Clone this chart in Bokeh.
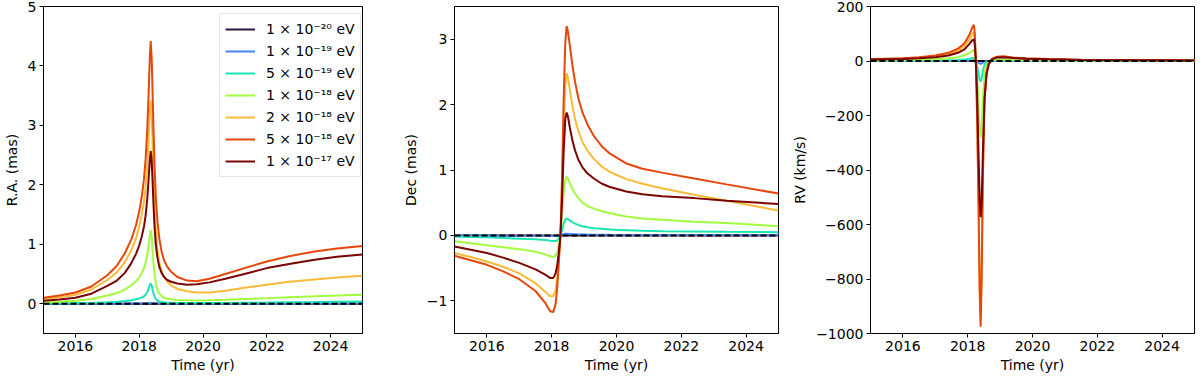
from bokeh.plotting import figure
from bokeh.layouts import row
from bokeh.models import FixedTicker, Range1d, Legend, LegendItem, Span, CustomJSTickFormatter
from bokeh.palettes import turbo
from bokeh.embed import file_html
from bokeh.resources import INLINE

# ---------------- data ----------------
mass_labels = ["1 × 10⁻²⁰ eV", "1 × 10⁻¹⁹ eV", "5 × 10⁻¹⁹ eV", "1 × 10⁻¹⁸ eV",
               "2 × 10⁻¹⁸ eV", "5 × 10⁻¹⁸ eV", "1 × 10⁻¹⁷ eV"]

# R.A. panel
t_ra = [2015, 2015.5, 2016, 2016.5, 2017, 2017.3, 2017.55, 2017.75, 2017.9, 2018.0, 2018.08, 2018.15,
        2018.2, 2018.25, 2018.29, 2018.33, 2018.36, 2018.39, 2018.42, 2018.45, 2018.48, 2018.52,
        2018.57, 2018.63, 2018.7, 2018.78, 2018.88, 2019.0, 2019.2, 2019.5, 2019.8, 2020.2, 2020.7,
        2021.3, 2022.0, 2022.7, 2023.5, 2024.2, 2025.0]
ra_m20 = [0.0] * 39
ra_m19 = [0.001, 0.001, 0.001, 0.001, 0.002, 0.002, 0.003, 0.003, 0.004, 0.004, 0.005, 0.006, 0.007,
          0.008, 0.009, 0.011, 0.012, 0.011, 0.009, 0.007, 0.005, 0.004, 0.003, 0.003, 0.002, 0.002,
          0.002, 0.002, 0.001, 0.001, 0.001, 0.001, 0.001, 0.002, 0.002, 0.002, 0.003, 0.003, 0.004]
ra_5m19 = [0.005, 0.007, 0.01, 0.015, 0.025, 0.033, 0.045, 0.06, 0.075, 0.09, 0.105, 0.125, 0.15,
           0.19, 0.24, 0.31, 0.34, 0.31, 0.24, 0.17, 0.12, 0.08, 0.055, 0.04, 0.03, 0.024, 0.019,
           0.016, 0.013, 0.011, 0.011, 0.012, 0.014, 0.017, 0.021, 0.026, 0.031, 0.036, 0.04]
ra_m18 = [0.02, 0.03, 0.05, 0.08, 0.14, 0.18, 0.24, 0.31, 0.38, 0.44, 0.52, 0.6, 0.69, 0.82, 0.97,
          1.15, 1.24, 1.14, 0.9, 0.68, 0.5, 0.35, 0.24, 0.17, 0.13, 0.1, 0.085, 0.075, 0.065, 0.058,
          0.055, 0.058, 0.067, 0.08, 0.095, 0.11, 0.125, 0.14, 0.15]
ra_2m18 = [0.08, 0.11, 0.15, 0.24, 0.40, 0.53, 0.7, 0.9, 1.1, 1.3, 1.5, 1.72, 1.95, 2.3, 2.7, 3.2, 3.42,
           3.2, 2.7, 2.15, 1.7, 1.25, 0.92, 0.7, 0.55, 0.45, 0.37, 0.31, 0.25, 0.21, 0.19, 0.19, 0.22,
           0.27, 0.32, 0.37, 0.41, 0.44, 0.47]
ra_5m18 = [0.10, 0.14, 0.19, 0.29, 0.48, 0.64, 0.85, 1.08, 1.32, 1.55, 1.8, 2.1, 2.42, 2.9, 3.45, 4.1,
           4.42, 4.15, 3.55, 2.9, 2.35, 1.8, 1.4, 1.1, 0.88, 0.73, 0.62, 0.54, 0.45, 0.39, 0.38, 0.42,
           0.5, 0.6, 0.71, 0.8, 0.88, 0.93, 0.97]
ra_m17 = [0.05, 0.07, 0.1, 0.17, 0.3, 0.39, 0.52, 0.68, 0.84, 0.98, 1.13, 1.3, 1.48, 1.75, 2.05, 2.4,
          2.57, 2.42, 2.05, 1.65, 1.3, 1.0, 0.78, 0.62, 0.52, 0.45, 0.4, 0.37, 0.34, 0.32, 0.33, 0.36,
          0.42, 0.5, 0.6, 0.67, 0.74, 0.79, 0.83]

# Dec panel
t_dec = [2015, 2015.5, 2016, 2016.5, 2017, 2017.5, 2017.8, 2017.95, 2018.05, 2018.12, 2018.17,
         2018.22, 2018.27, 2018.32, 2018.37, 2018.42, 2018.46, 2018.5, 2018.56, 2018.64, 2018.72,
         2018.82, 2018.95, 2019.1, 2019.3, 2019.55, 2019.8, 2020.3, 2020.8, 2021.4, 2022.4, 2023.4,
         2025.0]
dec_m20 = [0.0] * 33
dec_m19 = [-0.002, -0.003, -0.003, -0.004, -0.005, -0.006, -0.007, -0.008, -0.008, -0.008, -0.007,
           -0.004, 0.0, 0.008, 0.018, 0.024, 0.026, 0.025, 0.023, 0.02, 0.018, 0.016, 0.014, 0.012,
           0.011, 0.01, 0.009, 0.008, 0.007, 0.007, 0.006, 0.006, 0.005]
dec_5m19 = [-0.015, -0.025, -0.03, -0.04, -0.05, -0.06, -0.07, -0.08, -0.085, -0.085, -0.075, -0.045,
            0.0, 0.08, 0.18, 0.24, 0.26, 0.25, 0.23, 0.2, 0.18, 0.16, 0.14, 0.125, 0.11, 0.1, 0.09,
            0.08, 0.07, 0.065, 0.06, 0.055, 0.05]
dec_m18 = [-0.09, -0.12, -0.15, -0.18, -0.21, -0.25, -0.29, -0.32, -0.33, -0.31, -0.26, -0.15, 0.0,
           0.3, 0.65, 0.85, 0.9, 0.87, 0.8, 0.71, 0.64, 0.57, 0.5, 0.45, 0.41, 0.37, 0.34, 0.29, 0.26,
           0.24, 0.21, 0.19, 0.14]
dec_2m18 = [-0.27, -0.33, -0.40, -0.48, -0.58, -0.73, -0.86, -0.93, -0.93, -0.84, -0.64, -0.33, 0.0,
            0.7, 1.65, 2.3, 2.48, 2.42, 2.22, 1.98, 1.78, 1.6, 1.43, 1.3, 1.17, 1.05, 0.97, 0.86,
            0.79, 0.72, 0.62, 0.53, 0.38]
dec_5m18 = [-0.31, -0.38, -0.45, -0.55, -0.67, -0.85, -1.03, -1.16, -1.17, -1.05, -0.8, -0.42, 0.0,
            0.9, 2.1, 2.95, 3.2, 3.12, 2.9, 2.6, 2.35, 2.1, 1.88, 1.7, 1.52, 1.36, 1.25, 1.1, 1.02,
            0.96, 0.87, 0.78, 0.64]
dec_m17 = [-0.17, -0.22, -0.27, -0.34, -0.42, -0.52, -0.6, -0.65, -0.65, -0.58, -0.46, -0.26, 0.0,
           0.55, 1.3, 1.78, 1.88, 1.82, 1.65, 1.45, 1.3, 1.16, 1.04, 0.95, 0.87, 0.79, 0.74, 0.67,
           0.63, 0.6, 0.57, 0.53, 0.48]

# RV panel
t_rv = [2015, 2015.5, 2016, 2016.5, 2017, 2017.4, 2017.7, 2017.9, 2018.05, 2018.13, 2018.19, 2018.22,
        2018.25, 2018.29, 2018.33, 2018.37, 2018.40, 2018.43, 2018.47, 2018.52, 2018.58, 2018.65,
        2018.75, 2018.9, 2019.1, 2019.4, 2019.8, 2020.5, 2021.5, 2023.0, 2025.0]
rv_m20 = [0.0] * 31
rv_m19 = [0.1, 0.1, 0.1, 0.2, 0.3, 0.4, 0.6, 0.8, 1.2, 1.5, 1.7, 1.2, 0.0, -2.5, -6, -9, -10, -9, -5,
          -2, -0.6, -0.1, 0.1, 0.2, 0.2, 0.2, 0.1, 0.1, 0.1, 0.0, 0.0]
rv_5m19 = [0.5, 0.6, 0.8, 1.2, 1.8, 2.7, 4, 5.5, 8, 10, 11, 8, 0, -18, -42, -68, -76, -65, -36, -13, -4,
           -1, 0.8, 1.4, 1.4, 1.1, 0.8, 0.6, 0.4, 0.3, 0.3]
rv_m18 = [2, 2.5, 3, 4.5, 7, 10, 14, 21, 29, 36, 40, 30, 0, -60, -150, -250, -280, -240, -130, -45,
          -15, -3, 3, 5, 5, 4, 3, 2, 1.5, 1, 1]
rv_2m18 = [6, 7.5, 9, 12, 17, 25, 38, 55, 78, 95, 105, 78, 0, -190, -480, -820, -945, -780, -400,
           -130, -40, -6, 8, 14, 14, 11, 8, 6, 4, 3, 2.5]
rv_5m18 = [7, 8.5, 10, 14, 20, 30, 45, 65, 95, 120, 133, 100, 0, -200, -500, -850, -975, -800, -420,
           -140, -45, -8, 8, 16, 17, 13, 10, 7, 5, 4, 3]
rv_m17 = [5, 6, 7, 10, 14, 20, 30, 43, 62, 75, 80, 60, 5, -120, -320, -510, -573, -520, -330, -140,
          -50, -12, 6, 13, 14, 11, 8, 6, 4, 3, 2]

x_ticks = [2016, 2018, 2020, 2022, 2024]

# ---------------- styling ----------------
FONT = "DejaVu Sans"
FS = "14px"
colors = turbo(7)
H = 376

minus_fmt = CustomJSTickFormatter(code="""
    return tick < 0 ? '\\u2212' + Math.abs(tick).toString() : tick.toString();
""")


def make_fig(width, left, right, yr, yticks, ylabel, t, series):
    p = figure(width=width, height=H, x_range=Range1d(2015, 2025), y_range=Range1d(*yr),
               output_backend="svg", toolbar_location=None,
               min_border_left=left, min_border_right=right, min_border_top=6,
               min_border_bottom=43)
    p.grid.visible = False
    p.outline_line_color = "black"
    p.outline_line_alpha = 1
    p.outline_line_width = 1
    p.xaxis.ticker = FixedTicker(ticks=x_ticks)
    p.yaxis.ticker = FixedTicker(ticks=yticks)
    p.yaxis.formatter = minus_fmt
    p.xaxis.axis_label = "Time (yr)"
    p.yaxis.axis_label = ylabel
    for ax in p.axis:
        ax.major_tick_in = 0
        ax.major_tick_out = 4
        ax.minor_tick_line_color = None
        ax.axis_line_color = "black"
        ax.major_tick_line_color = "black"
        ax.major_label_text_font = FONT
        ax.major_label_text_font_size = FS
        ax.major_label_text_color = "black"
        ax.axis_label_text_font = FONT
        ax.axis_label_text_font_size = FS
        ax.axis_label_text_font_style = "normal"
        ax.axis_label_text_color = "black"
        ax.major_label_standoff = 3
    p.xaxis.axis_label_standoff = 3
    p.yaxis.axis_label_standoff = 5
    rends = []
    for ys, c in zip(series, colors):
        rends.append(p.line(t, ys, line_color=c, line_width=2))
    p.add_layout(Span(location=0, dimension="width", line_color="black", line_width=2,
                      line_dash="6 3"))
    return p, rends


p1, r1 = make_fig(394, 38, 32, (-0.5, 5), [0, 1, 2, 3, 4, 5], "R.A. (mas)", t_ra,
                  [ra_m20, ra_m19, ra_5m19, ra_m18, ra_2m18, ra_5m18, ra_m17])
p2, _ = make_fig(394, 60, 10, (-1.5, 3.5), [-1, 0, 1, 2, 3], "Dec (mas)", t_dec,
                 [dec_m20, dec_m19, dec_5m19, dec_m18, dec_2m18, dec_5m18, dec_m17])
p3, _ = make_fig(408, 82, 2, (-1000, 200), [-1000, -800, -600, -400, -200, 0, 200], "RV (km/s)", t_rv,
                 [rv_m20, rv_m19, rv_5m19, rv_m18, rv_2m18, rv_5m18, rv_m17])

legend = Legend(items=[LegendItem(label=lab, renderers=[r]) for lab, r in zip(mass_labels, r1)],
                location=(176, 156))
legend.label_text_font = FONT
legend.label_text_font_size = FS
legend.label_text_color = "black"
legend.glyph_width = 30
legend.glyph_height = 20
legend.label_height = 20
legend.label_standoff = 11
legend.spacing = 2
legend.padding = 5
legend.margin = 0
legend.border_line_color = "#cccccc"
legend.border_line_width = 1
legend.background_fill_alpha = 0.8
p1.add_layout(legend)

layout = row(p1, p2, p3)
open("out.html", "w").write(file_html(layout, INLINE))
